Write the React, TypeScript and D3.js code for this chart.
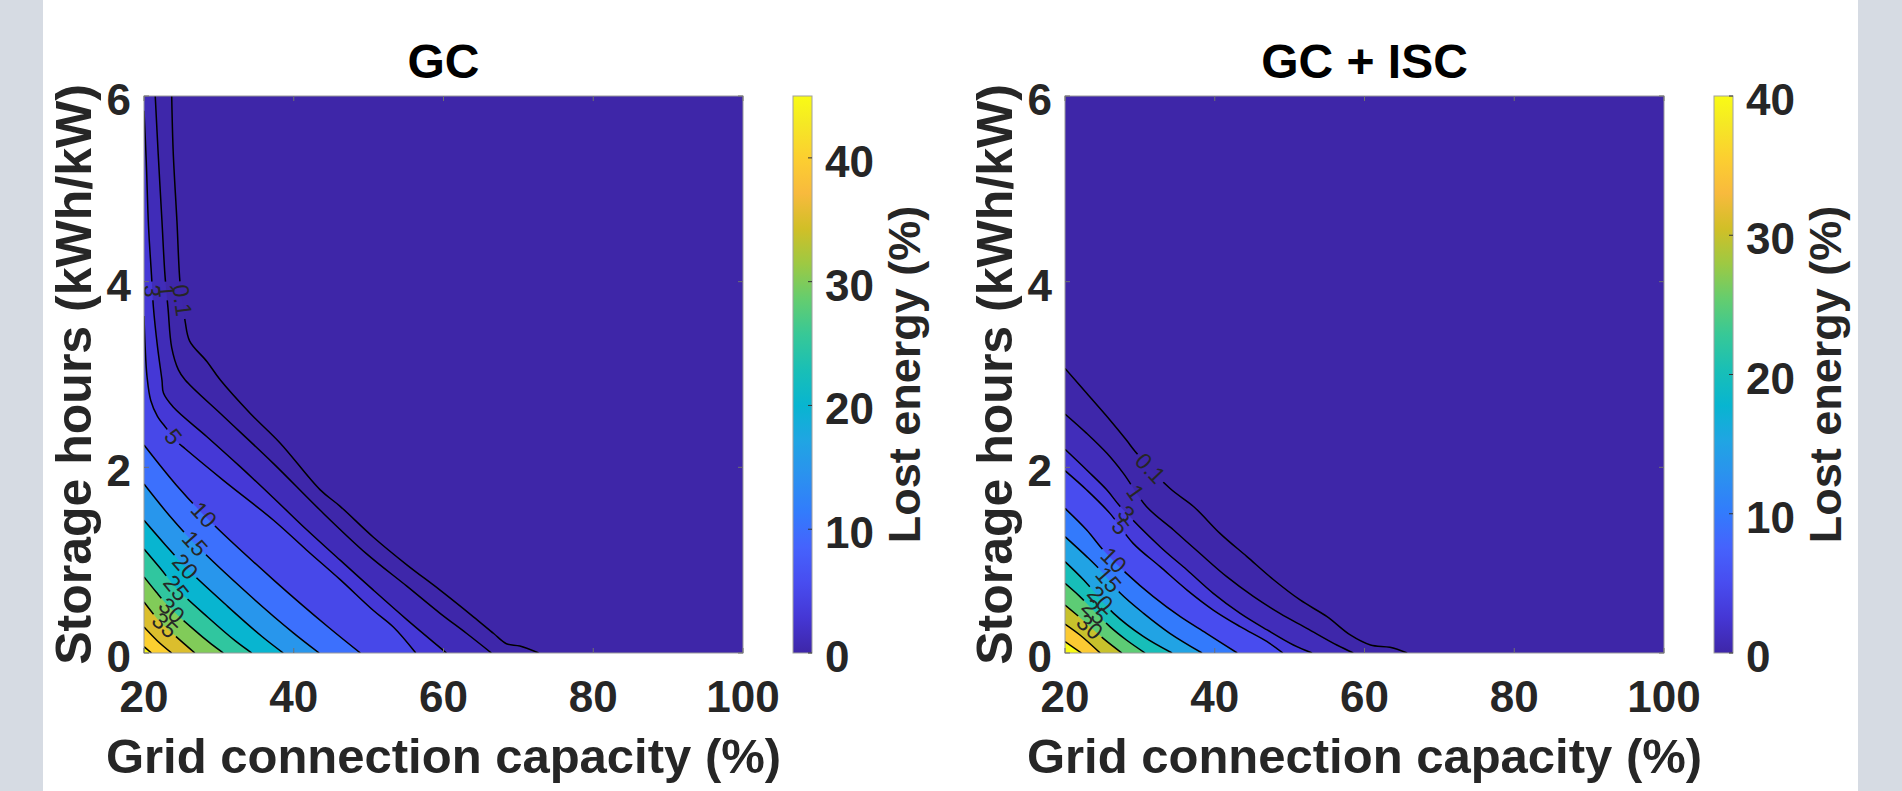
import React from 'react';
import * as d3 from 'd3';

type Pt = [number, number];

const xTicks = [20, 40, 60, 80, 100];
const yTicks = [0, 2, 4, 6];
const cbTicks = [0, 10, 20, 30, 40];

// GC panel: contour lines, [grid capacity %, storage h]
const gcLevels = [0.1, 1, 3, 5, 10, 15, 20, 25, 30, 35, 40, 45];
const gc01: Pt[] = [[23.7, 6], [23.9, 5.4], [24.4, 4.65], [24.8, 4.0], [25.2, 3.75], [25.5, 3.57], [26.1, 3.36], [28.4, 3.14], [30.2, 2.94], [34.2, 2.58], [38.2, 2.26], [43.5, 1.76], [46.2, 1.58], [50.6, 1.25], [55.1, 0.95], [59.5, 0.68], [64.0, 0.39], [66.7, 0.21], [68.4, 0.1], [70.2, 0.075], [72.7, 0]];
const gc1: Pt[] = [[21.5, 6], [21.9, 5.37], [22.4, 4.65], [22.8, 4.07], [23.2, 3.72], [23.7, 3.29], [24.6, 3.05], [25.5, 2.94], [30.6, 2.55], [37.3, 2.04], [43.5, 1.54], [49.7, 1.07], [55.1, 0.72], [59.5, 0.43], [63.1, 0.21], [66.4, 0]];
const gc3: Pt[] = [[20, 5.84], [20.3, 5.3], [20.6, 4.6], [21.0, 4.07], [21.25, 3.73], [21.8, 3.3], [22.4, 2.94], [22.6, 2.8], [23.9, 2.65], [28.4, 2.33], [32.8, 2.01], [37.3, 1.67], [41.7, 1.33], [46.2, 1.0], [50.6, 0.68], [55.1, 0.36], [60.4, 0]];
const gc5: Pt[] = [[20, 3.63], [20.15, 3.3], [20.4, 2.98], [20.9, 2.72], [21.8, 2.55], [23.0, 2.42], [24.5, 2.27], [25.5, 2.2], [30.6, 1.86], [37.3, 1.43], [41.7, 1.11], [46.2, 0.79], [50.6, 0.46], [53.3, 0.28], [56.3, 0]];
const gc10: Pt[] = [[20, 2.24], [24.3, 1.81], [28.7, 1.43], [37.4, 0.78], [44.6, 0.28], [48.9, 0]];
const gc15: Pt[] = [[20, 1.82], [23.5, 1.47], [27.0, 1.16], [34.0, 0.63], [39.9, 0.22], [43.4, 0]];
const gc20: Pt[] = [[20, 1.43], [22.8, 1.17], [25.6, 0.92], [31.2, 0.5], [35.8, 0.175], [38.6, 0]];
const gc25: Pt[] = [[20, 1.12], [22.2, 0.91], [24.3, 0.7], [28.6, 0.38], [32.2, 0.13], [34.4, 0]];
const gc30: Pt[] = [[20, 0.82], [21.6, 0.66], [23.2, 0.51], [26.4, 0.27], [29.0, 0.095], [30.6, 0]];
const gc35: Pt[] = [[20, 0.55], [22.0, 0.35], [24.1, 0.19], [26.8, 0]];
const gc40: Pt[] = [[20, 0.28], [21.8, 0.13], [23.7, 0]];
const gc45: Pt[] = [[20, 0.068], [21.0, 0]];
const gcLines = [gc01, gc1, gc3, gc5, gc10, gc15, gc20, gc25, gc30, gc35, gc40, gc45];
const gcLabels: [string, number, number][] = [
  ['3', 21.1, 3.9], ['1', 23.0, 3.9], ['0.1', 25.1, 3.8], ['5', 23.9, 2.33],
  ['10', 28.0, 1.49], ['15', 26.8, 1.18], ['20', 25.5, 0.93], ['25', 24.3, 0.7],
  ['30', 23.7, 0.46], ['35', 22.8, 0.3],
];
const gcMax = 45;

// GC + ISC panel
const iscLevels = [0.1, 1, 3, 5, 10, 15, 20, 25, 30, 35, 40];
const isc01: Pt[] = [[20, 3.066], [22.9, 2.797], [26.0, 2.51], [28.2, 2.294], [29.4, 2.169], [34.0, 1.774], [37.2, 1.576], [40.7, 1.289], [44.3, 1.038], [47.9, 0.786], [51.4, 0.571], [55.0, 0.391], [58.1, 0.194], [60.8, 0.086], [63.4, 0.061], [65.7, 0]];
const isc1: Pt[] = [[20, 2.575], [22.9, 2.366], [25.6, 2.151], [27.8, 1.935], [30.9, 1.576], [34.5, 1.325], [38.0, 1.074], [41.6, 0.822], [45.2, 0.607], [48.7, 0.427], [52.3, 0.266], [56.3, 0.086], [58.5, 0]];
const isc3: Pt[] = [[20, 2.194], [22.9, 1.971], [25.6, 1.756], [27.4, 1.576], [32.7, 1.145], [36.3, 0.894], [39.8, 0.643], [43.4, 0.427], [47.0, 0.248], [50.5, 0.086], [53.0, 0]];
const isc5: Pt[] = [[20, 1.964], [22.9, 1.756], [26.0, 1.504], [29.1, 1.181], [32.7, 0.93], [36.3, 0.678], [39.8, 0.463], [43.4, 0.284], [47.0, 0.122], [49.1, 0]];
const isc10: Pt[] = [[20, 1.558], [22.9, 1.325], [25.1, 1.109], [28.2, 0.858], [31.8, 0.607], [35.4, 0.391], [38.9, 0.212], [43.0, 0]];
const isc15: Pt[] = [[20, 1.253], [22.9, 1.038], [24.7, 0.894], [27.4, 0.643], [30.5, 0.427], [34.0, 0.212], [38.3, 0]];
const isc20: Pt[] = [[20, 0.984], [22.5, 0.786], [26.5, 0.427], [30.5, 0.176], [34.3, 0]];
const isc25: Pt[] = [[20, 0.75], [22.0, 0.607], [26.0, 0.284], [28.2, 0.14], [30.7, 0]];
const isc30: Pt[] = [[20, 0.517], [21.6, 0.409], [25.1, 0.158], [27.6, 0]];
const isc35: Pt[] = [[20, 0.312], [22.0, 0.194], [24.7, 0]];
const isc40: Pt[] = [[20, 0.122], [22.2, 0]];
const iscLines = [isc01, isc1, isc3, isc5, isc10, isc15, isc20, isc25, isc30, isc35, isc40];
const iscLabels: [string, number, number][] = [
  ['0.1', 31.4, 1.99], ['1', 29.4, 1.73], ['3', 28.2, 1.5], ['5', 27.4, 1.36],
  ['10', 26.5, 1.0], ['15', 25.8, 0.79], ['20', 24.7, 0.586], ['25', 24.0, 0.445],
  ['30', 23.3, 0.283],
];
const iscMax = 40;

// parula, every 4th entry of the 64-colour table
const parulaStops = [
  [0.2422, 0.1504, 0.6603], [0.2706, 0.2147, 0.8364], [0.2813, 0.3006, 0.9414],
  [0.2699, 0.3892, 0.9906], [0.1963, 0.4847, 0.9892], [0.1687, 0.5703, 0.9359],
  [0.1248, 0.6459, 0.8883], [0.0297, 0.7082, 0.8163], [0.0964, 0.75, 0.712],
  [0.2161, 0.7843, 0.5923], [0.3909, 0.8029, 0.4354], [0.6174, 0.7876, 0.2612],
  [0.8203, 0.7498, 0.1535], [0.9728, 0.7298, 0.2394], [0.9892, 0.8136, 0.1885],
  [0.9597, 0.9135, 0.1423], [0.9769, 0.9839, 0.0805],
];
const stopPos = parulaStops.map((_, i) => Math.min(i * 4, 63) / 63);
stopPos[stopPos.length - 1] = 1;
const stopCol = parulaStops.map(c => d3.rgb(c[0] * 255, c[1] * 255, c[2] * 255).formatHex());
const parula = d3.scaleLinear<string>().domain(stopPos).range(stopCol).interpolate(d3.interpolateRgb).clamp(true);

const FONT = '"Liberation Sans", Arial, Helvetica, sans-serif';
const TXT = '#262626';
const TOP = 96;
const BOTTOM = 653;
const AX_W = 599;
const LABEL_FS = 23;

function labelAngle(pts: Pt[], lx: number, ly: number) {
  let best = Infinity;
  let ang = 0;
  for (let i = 0; i < pts.length - 1; i++) {
    const [ax, ay] = pts[i];
    const [bx, by] = pts[i + 1];
    const dx = bx - ax, dy = by - ay;
    const t = Math.max(0, Math.min(1, ((lx - ax) * dx + (ly - ay) * dy) / (dx * dx + dy * dy)));
    const d = Math.hypot(ax + t * dx - lx, ay + t * dy - ly);
    if (d < best) {
      best = d;
      ang = (Math.atan2(dy, dx) * 180) / Math.PI;
    }
  }
  if (ang > 90) ang -= 180;
  if (ang < -90) ang += 180;
  return ang;
}

function Panel({ id, left, title, levels, lines, labels, cmax }: {
  id: string; left: number; title: string; levels: number[]; lines: Pt[][];
  labels: [string, number, number][]; cmax: number;
}) {
  const x = d3.scaleLinear().domain([20, 100]).range([left, left + AX_W]);
  const y = d3.scaleLinear().domain([0, 6]).range([BOTTOM, TOP]);
  const cbLeft = left + AX_W + 50;
  const cbW = 19;
  const cbY = d3.scaleLinear().domain([0, cmax]).range([BOTTOM, TOP]);
  const line = d3.line<Pt>().x(d => x(d[0])).y(d => y(d[1])).curve(d3.curveCatmullRom.alpha(0.5));

  const fillPath = (pts: Pt[]) => {
    const closing: Pt[] = [[20, 0]];
    if (pts[0][1] >= 6) closing.push([20, 6]);
    return line(pts) + closing.map(p => `L${x(p[0])},${y(p[1])}`).join('') + 'Z';
  };

  const labelMarks = labels.map(([txt, lx, ly]) => {
    const idx = levels.indexOf(+txt);
    const px = lines[idx].map(p => [x(p[0]), y(p[1])] as Pt);
    const cx = x(lx), cy = y(ly);
    const a = labelAngle(px, cx, cy);
    const w = txt.split('').reduce((s, c) => s + (c === '.' ? 0.278 : 0.556), 0) * LABEL_FS + 6;
    return { txt, cx, cy, a, w };
  });

  const midX = left + AX_W / 2;
  const midY = (TOP + BOTTOM) / 2;

  return (
    <g>
      <defs>
        <clipPath id={`clip-${id}`}>
          <rect x={left} y={TOP} width={AX_W} height={BOTTOM - TOP} />
        </clipPath>
        <mask id={`mask-${id}`} maskUnits="userSpaceOnUse" x={0} y={0} width={1902} height={791}>
          <rect x={0} y={0} width={1902} height={791} fill="white" />
          {labelMarks.map((m, i) => (
            <rect key={i} x={-m.w / 2} y={-10} width={m.w} height={20} fill="black"
              transform={`translate(${m.cx},${m.cy}) rotate(${m.a})`} />
          ))}
        </mask>
        <linearGradient id={`grad-${id}`} x1="0" y1="1" x2="0" y2="0">
          {stopPos.map((p, i) => <stop key={i} offset={p} stopColor={stopCol[i]} />)}
        </linearGradient>
      </defs>

      <g clipPath={`url(#clip-${id})`}>
        <rect x={left} y={TOP} width={AX_W} height={BOTTOM - TOP} fill={parula(0)} />
        {lines.map((pts, i) => (
          <path key={i} d={fillPath(pts)} fill={parula(levels[i] / cmax)} />
        ))}
        <g mask={`url(#mask-${id})`}>
          {lines.map((pts, i) => (
            <path key={i} d={line(pts) || ''} fill="none" stroke="#000" strokeWidth={1.5} />
          ))}
        </g>
        {labelMarks.map((m, i) => (
          <text key={i} transform={`translate(${m.cx},${m.cy}) rotate(${m.a})`} textAnchor="middle"
            dominantBaseline="central" fontFamily={FONT} fontSize={LABEL_FS} fill={TXT}>{m.txt}</text>
        ))}
      </g>

      <rect x={left} y={TOP} width={AX_W} height={BOTTOM - TOP} fill="none" stroke="#9a9a9a" strokeWidth={1} />
      {xTicks.map(t => (
        <g key={t}>
          <line x1={x(t)} x2={x(t)} y1={BOTTOM} y2={BOTTOM - 5} stroke="#707070" />
          <line x1={x(t)} x2={x(t)} y1={TOP} y2={TOP + 5} stroke="#707070" />
          <text x={x(t)} y={712} textAnchor="middle" fontFamily={FONT} fontWeight="bold" fontSize={44} fill={TXT}>{t}</text>
        </g>
      ))}
      {yTicks.map(t => (
        <g key={t}>
          <line x1={left} x2={left + 5} y1={y(t)} y2={y(t)} stroke="#707070" />
          <line x1={left + AX_W} x2={left + AX_W - 5} y1={y(t)} y2={y(t)} stroke="#707070" />
          <text x={left - 13} y={y(t) + 19} textAnchor="end" fontFamily={FONT} fontWeight="bold" fontSize={44} fill={TXT}>{t}</text>
        </g>
      ))}

      <text x={midX} y={78} textAnchor="middle" fontFamily={FONT} fontWeight="bold" fontSize={48} fill="#000">{title}</text>
      <text x={midX} y={773} textAnchor="middle" fontFamily={FONT} fontWeight="bold" fontSize={49} fill={TXT}>Grid connection capacity (%)</text>
      <text transform={`translate(${left - 53},${midY}) rotate(-90)`} textAnchor="middle" fontFamily={FONT} fontWeight="bold" fontSize={50} fill={TXT}>Storage hours (kWh/kW)</text>

      <rect x={cbLeft} y={TOP} width={cbW} height={BOTTOM - TOP} fill={`url(#grad-${id})`} stroke="#a0a0a0" strokeWidth={1} />
      {cbTicks.map(t => (
        <g key={t}>
          <line x1={cbLeft + cbW} x2={cbLeft + cbW - 4} y1={cbY(t)} y2={cbY(t)} stroke="#333" />
          <text x={cbLeft + cbW + 13} y={cbY(t) + 19} fontFamily={FONT} fontWeight="bold" fontSize={44} fill={TXT}>{t}</text>
        </g>
      ))}
      <text transform={`translate(${cbLeft + cbW + 108},${midY}) rotate(-90)`} textAnchor="middle" fontFamily={FONT} fontWeight="bold" fontSize={45} fill={TXT}>Lost energy (%)</text>
    </g>
  );
}

export default function App() {
  return (
    <div style={{ position: 'fixed', left: 0, top: 0 }}>
      <svg width={1902} height={791} style={{ display: 'block' }}>
        <rect x={0} y={0} width={1902} height={791} fill="#fff" />
        <rect x={0} y={0} width={43} height={791} fill="#d6dbe3" />
        <rect x={1858} y={0} width={44} height={791} fill="#d6dbe3" />
        <Panel id="gc" left={144} title="GC" levels={gcLevels} lines={gcLines} labels={gcLabels} cmax={gcMax} />
        <Panel id="isc" left={1065} title="GC + ISC" levels={iscLevels} lines={iscLines} labels={iscLabels} cmax={iscMax} />
      </svg>
    </div>
  );
}
